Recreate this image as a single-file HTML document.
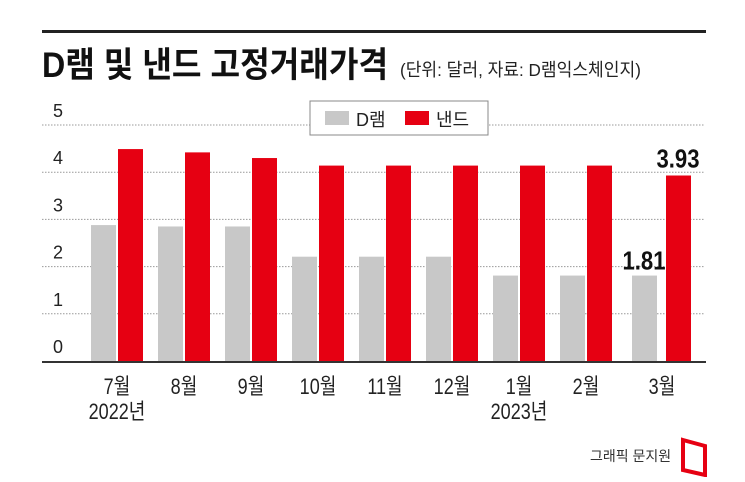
<!DOCTYPE html>
<html><head><meta charset="utf-8"><style>
body{margin:0;background:#fff;}
svg text{font-family:"Liberation Sans","Noto Sans CJK KR",sans-serif;}
</style></head><body>
<svg width="745" height="477" viewBox="0 0 745 477">
<rect x="42" y="30" width="664" height="3" fill="#222"/>
<text x="42" y="77" font-size="35" font-weight="bold" fill="#111" transform="translate(42 0) scale(0.92 1) translate(-42 0)">D램 및 낸드 고정거래가격</text>
<text x="400" y="76" font-size="18" fill="#222" transform="translate(400 0) scale(0.95 1) translate(-400 0)">(단위: 달러, 자료: D램익스체인지)</text>
<g id="grid"></g>
<g id="bars"></g>
<g id="xl"></g>
<rect x="310" y="101" width="178" height="34" fill="#fff" stroke="#888"/>
<rect x="325" y="111" width="24" height="14" fill="#c8c8c8"/>
<text x="356" y="126" font-size="18" fill="#222">D램</text>
<rect x="405" y="111" width="24" height="14" fill="#e60012"/>
<text x="436" y="126" font-size="18" fill="#222">낸드</text>
<text x="590" y="461" font-size="14" fill="#333">그래픽 문지원</text>
<path d="M683 440 L705 446 L705 475 L683 470 Z" fill="none" stroke="#e60012" stroke-width="4"/>
</svg>
<script>
const categories=["7월","8월","9월","10월","11월","12월","1월","2월","3월"];
const years=["2022년","","","","","","2023년","",""];
const dram=[2.88,2.85,2.85,2.21,2.21,2.21,1.81,1.81,1.81];
const nand=[4.49,4.42,4.30,4.14,4.14,4.14,4.14,4.14,3.93];
const yTicks=[0,1,2,3,4,5];
const ns="http://www.w3.org/2000/svg";
const y0=361,unit=47.2;
const y=v=>y0-v*unit;
function gx(i){return 91+i*67+(i===categories.length-1?5:0);}
function mk(t,a,p){const e=document.createElementNS(ns,t);for(const k in a)e.setAttribute(k,a[k]);p.appendChild(e);return e;}
function cond(e,cx,s){e.setAttribute('transform','translate('+cx+' 0) scale('+s+' 1) translate('+(-cx)+' 0)');}
const grid=document.getElementById('grid'),bars=document.getElementById('bars'),xl=document.getElementById('xl');
yTicks.forEach(t=>{
 if(t>0){const l=mk('line',{x1:42,x2:705,y1:y(t),y2:y(t),stroke:'#999','stroke-dasharray':'1.5 1.5'},grid);
 
 }
 const tx=mk('text',{x:53,y:y(t)-8,'font-size':18,fill:'#222'},grid);tx.textContent=t;
 
 
});
categories.forEach((c,i)=>{
 const x=gx(i),last=i===categories.length-1;
 const b1=mk('rect',{x:x,y:y(dram[i]),width:25,height:dram[i]*unit,fill:'#c8c8c8'},bars);
 
 
 const nx=last?x+34:x+27;
 const b2=mk('rect',{x:nx,y:y(nand[i]),width:25,height:nand[i]*unit,fill:'#e60012'},bars);
 
 
 const cx=last?x+30:x+26;
 const t=mk('text',{x:cx,y:394,'font-size':22,fill:'#222','text-anchor':'middle'},xl);t.textContent=c;cond(t,cx,0.82);
 
 
 if(years[i]){const t2=mk('text',{x:x+26,y:419,'font-size':22,fill:'#222','text-anchor':'middle'},xl);t2.textContent=years[i];cond(t2,x+26,0.82);
 
 }
 if(last){
  const v1=mk('text',{x:x+12,y:y(dram[i])-6,'font-size':26,'font-weight':'bold',fill:'#111','text-anchor':'middle'},bars);v1.textContent=dram[i].toFixed(2);cond(v1,x+12,0.85);
  
  
  const v2=mk('text',{x:nx+12,y:y(nand[i])-8,'font-size':26,'font-weight':'bold',fill:'#111','text-anchor':'middle'},bars);v2.textContent=nand[i].toFixed(2);cond(v2,nx+12,0.85);
  
  
 }
});
const base=mk('rect',{x:42,y:y0,width:664,height:2,fill:'#333'},bars);


</script>
</body></html>
